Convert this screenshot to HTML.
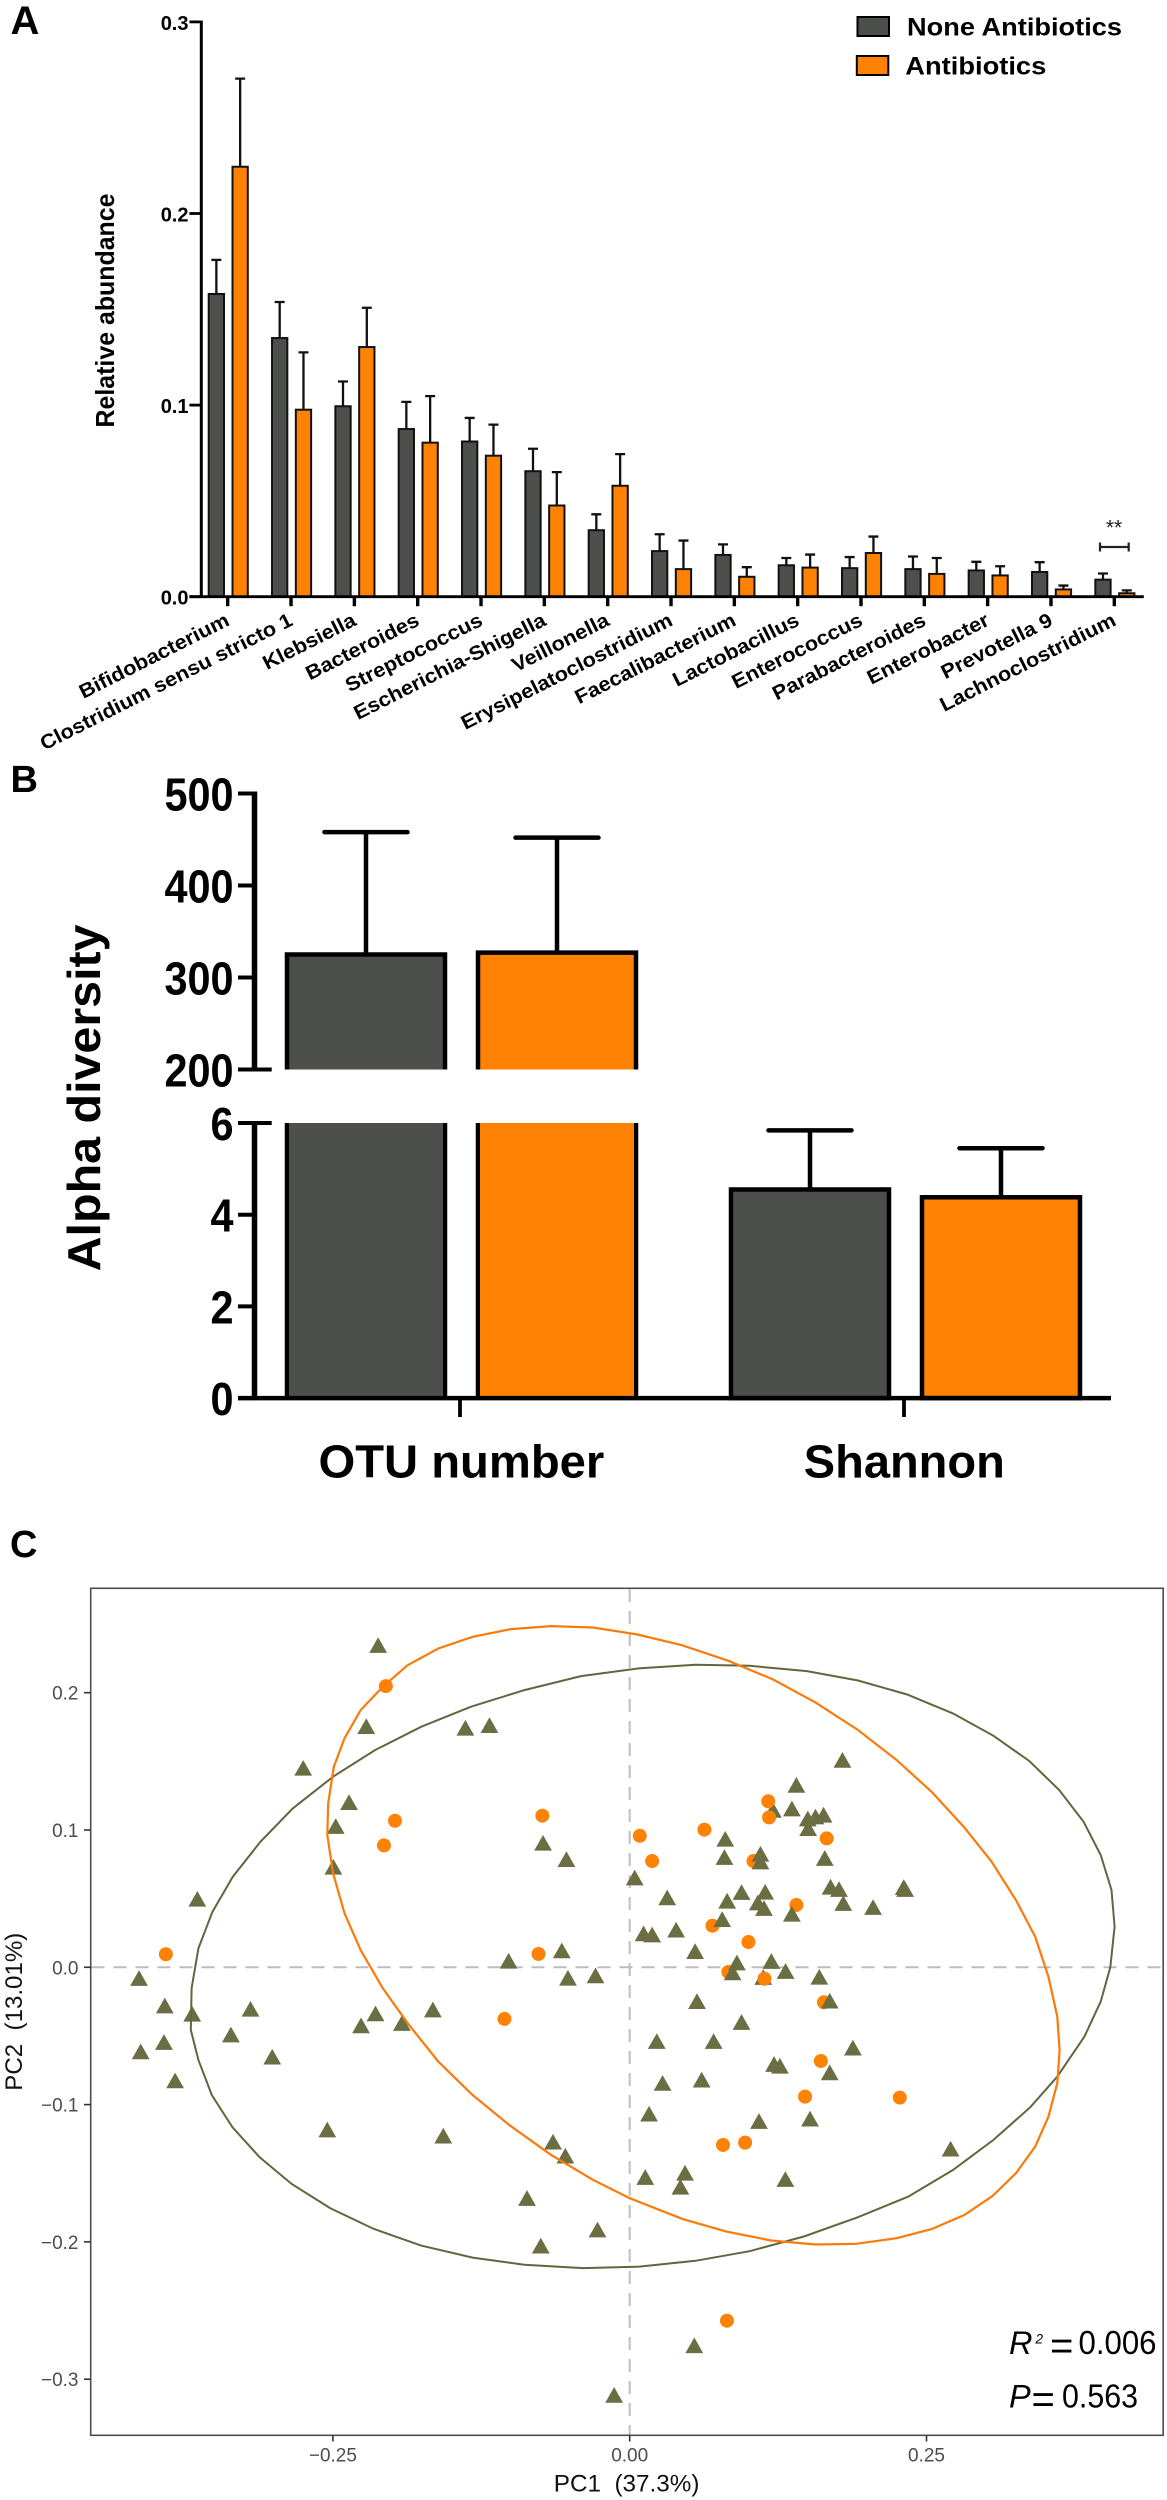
<!DOCTYPE html>
<html lang="en">
<head>
<meta charset="utf-8">
<title>Microbiome composition and diversity figure</title>
<style>
html,body{margin:0;padding:0;background:#fff;}
svg{display:block;font-family:"Liberation Sans",sans-serif;}
</style>
</head>
<body>
<svg id="figure" xmlns="http://www.w3.org/2000/svg" width="1167" height="2500" viewBox="0 0 1167 2500">
  <rect x="0" y="0" width="1167" height="2500" fill="#ffffff"/>

  <g id="panel-a">
    <text x="10.5" y="34" font-size="40" font-weight="700" fill="#000">A</text>
    <text transform="translate(114,427.5) rotate(-90)" font-size="26" font-weight="700" fill="#000" textLength="234" lengthAdjust="spacingAndGlyphs">Relative abundance</text>
    <rect x="857.5" y="17" width="31.5" height="19" fill="#4d4f4d" stroke="#000" stroke-width="2"/>
    <text x="907" y="35.4" font-size="25" font-weight="700" fill="#000" textLength="215" lengthAdjust="spacingAndGlyphs">None Antibiotics</text>
    <rect x="856.8" y="56" width="31.5" height="19" fill="#ff8205" stroke="#000" stroke-width="2"/>
    <text x="905.3" y="74.6" font-size="25" font-weight="700" fill="#000" textLength="141" lengthAdjust="spacingAndGlyphs">Antibiotics</text>
    <path d="M1100 547H1128.7M1100 542.5V551.5M1128.7 542.5V551.5" fill="none" stroke="#222" stroke-width="2.2"/>
    <text x="1114" y="534.5" text-anchor="middle" font-size="21" fill="#222">**</text>
  </g>

  <g id="panel-b">
    <text x="10.5" y="792" font-size="38" font-weight="700" fill="#000">B</text>
    <text transform="translate(100,1271.4) rotate(-90)" font-size="46" font-weight="700" fill="#000" textLength="347" lengthAdjust="spacingAndGlyphs">Alpha diversity</text>
  </g>

  <g id="panel-c">
    <text x="10" y="1557" font-size="38" font-weight="700" fill="#000">C</text>
    <rect x="90.7" y="1588.3" width="1072.5" height="847" fill="none" stroke="#4d4d4d" stroke-width="1.6"/>
    <text x="553.8" y="2491.7" font-size="24" fill="#111" textLength="145.6" lengthAdjust="spacingAndGlyphs" xml:space="preserve">PC1  (37.3%)</text>
    <text transform="translate(22,2090.7) rotate(-90)" font-size="24" fill="#111" textLength="158" lengthAdjust="spacingAndGlyphs" xml:space="preserve">PC2  (13.01%)</text>
    <g fill="#000">
      <text x="1009" y="2354" font-size="32.5" font-style="italic">R</text>
      <text x="1035.5" y="2343.5" font-size="13.5" font-style="italic">2</text>
      <text x="1050" y="2359" font-size="40" font-weight="400">=</text>
      <text x="1078.5" y="2354" font-size="33" textLength="78" lengthAdjust="spacingAndGlyphs">0.006</text>
    </g>
    <g fill="#000">
      <text x="1009" y="2407.5" font-size="32.5" font-style="italic">P</text>
      <text x="1031.5" y="2412.4" font-size="40" font-weight="400">=</text>
      <text x="1062" y="2407.5" font-size="33" textLength="76" lengthAdjust="spacingAndGlyphs">0.563</text>
    </g>
  </g>
</svg>
<script>
/* ---------- Panel A data ---------- */
const genera = ['Bifidobacterium','Clostridium sensu stricto 1','Klebsiella','Bacteroides','Streptococcus','Escherichia-Shigella','Veillonella','Erysipelatoclostridium','Faecalibacterium','Lactobacillus','Enterococcus','Parabacteroides','Enterobacter','Prevotella 9','Lachnoclostridium'];
const noneAntibioticsMean = [0.158,0.135,0.0994,0.0875,0.081,0.0655,0.0347,0.0238,0.0218,0.0164,0.0149,0.0144,0.0137,0.0129,0.0089];
const noneAntibioticsUpper = [0.1758,0.1538,0.1123,0.1017,0.0933,0.0772,0.043,0.0326,0.0273,0.0202,0.0207,0.021,0.0182,0.018,0.0121];
const antibioticsMean = [0.2244,0.0976,0.1303,0.0804,0.0736,0.0476,0.0579,0.0144,0.0104,0.0152,0.0228,0.0119,0.0111,0.0038,0.0018];
const antibioticsUpper = [0.2704,0.1275,0.1508,0.1047,0.0898,0.065,0.0744,0.0293,0.0154,0.022,0.0314,0.0202,0.0159,0.0058,0.0033];
const abundanceTicks = [0,0.1,0.2,0.3];
const abundanceTickLabels = ['0.0','0.1','0.2','0.3'];

/* ---------- Panel B data ---------- */
const diversityMetrics = ['OTU number','Shannon'];
const diversityNoneMean = [325,4.55];
const diversityNoneUpper = [458,5.84];
const diversityAbxMean = [327,4.38];
const diversityAbxUpper = [452,5.45];
const upperSegmentTicks = [200,300,400,500];
const upperSegmentTickLabels = ['200','300','400','500'];
const lowerSegmentTicks = [0,2,4,6];
const lowerSegmentTickLabels = ['0','2','4','6'];

/* ---------- Panel C data ---------- */
const pc1Ticks = [-0.25,0,0.25];
const pc1TickLabels = ['\u22120.25','0.00','0.25'];
const pc2Ticks = [0.2,0.1,0,-0.1,-0.2,-0.3];
const pc2TickLabels = ['0.2','0.1','0.0','\u22120.1','\u22120.2','\u22120.3'];
const trianglePC1 = [-0.2119,-0.2219,-0.1384,-0.1181,-0.275,-0.2364,-0.2476,-0.2496,-0.3642,-0.073,-0.0533,-0.0572,-0.102,-0.4133,-0.052,-0.0288,-0.3916,-0.3685,-0.3194,-0.2141,-0.1658,-0.2263,-0.1919,-0.3359,-0.3923,-0.4119,-0.3011,-0.3829,-0.2547,-0.157,-0.0646,-0.0542,-0.0865,-0.0749,-0.0271,0.1792,0.1404,0.1366,0.1206,0.15,0.1565,0.1633,0.1503,0.0805,0.0798,0.1101,0.1101,0.1643,0.0042,0.0316,0.0942,0.0821,0.1141,0.1079,0.1131,0.1366,0.1692,0.1763,0.1799,0.205,0.2308,0.232,0.0779,0.0117,0.0189,0.0391,0.0551,0.0903,0.0867,0.1193,0.1313,0.1125,0.1597,0.0567,0.1685,0.0942,0.0228,0.0707,0.188,0.1216,0.1265,0.1685,0.0277,0.0606,0.0163,0.1089,0.1519,0.2703,0.0131,0.0466,0.0427,0.1311,0.0544,-0.0131];
const trianglePC2 = [0.2345,0.1755,0.1743,0.1762,0.1451,0.1201,0.1027,0.073,0.0497,0.0905,0.0786,0.0121,0.0046,-0.008,-0.0078,-0.0061,-0.028,-0.034,-0.0304,-0.0338,-0.0309,-0.0425,-0.0408,-0.0491,-0.0546,-0.0614,-0.0653,-0.0826,-0.1183,-0.1228,-0.1272,-0.1374,-0.1682,-0.2029,-0.1912,0.1509,0.1327,0.1155,0.1145,0.1082,0.1096,0.1109,0.1012,0.0934,0.0801,0.0825,0.0769,0.0794,0.0652,0.0507,0.0546,0.0483,0.0548,0.047,0.043,0.0388,0.0585,0.0568,0.0466,0.0437,0.0582,0.0568,0.0349,0.0245,0.0237,0.0272,0.0116,0.0033,-0.0039,0.0044,-0.0029,-0.0073,-0.0071,-0.0248,-0.0245,-0.04,-0.0539,-0.0539,-0.0587,-0.0706,-0.0719,-0.0767,-0.0844,-0.082,-0.1068,-0.1121,-0.1104,-0.1323,-0.1529,-0.1498,-0.16,-0.1544,-0.2755,-0.3116];
const circleBelowPC1 = [-0.2054,-0.1977,-0.207,-0.3907,-0.0736,-0.0768,-0.1055,0.0085,0.0629,0.1659,0.0189,0.1043,0.1404,0.0697,0.1,0.0831,0.1636,0.161,0.1477,0.2275,0.0786,0.0972,0.0819];
const circleBelowPC2 = [0.2048,0.1067,0.0888,0.0095,0.1104,0.0097,-0.0376,0.0958,0.1002,0.0939,0.0774,0.0774,0.0454,0.0303,0.0184,-0.0034,-0.0255,-0.0682,-0.0942,-0.0949,-0.1294,-0.1277,-0.2574];
const circleAbovePC1 = [0.1167,0.1174,0.1135];
const circleAbovePC2 = [0.1209,0.1092,-0.0083];
const oliveEllipsePC1 = [0.0075,0.0554,0.101,0.1493,0.1923,0.2337,0.2722,0.3064,0.3367,0.3618,0.3823,0.3967,0.4058,0.4084,0.4048,0.3967,0.383,0.3602,0.3374,0.3064,0.2722,0.2347,0.1923,0.1467,0.101,0.0554,0.0082,-0.0393,-0.0887,-0.1323,-0.1757,-0.2161,-0.2524,-0.2847,-0.3117,-0.3346,-0.352,-0.3633,-0.3697,-0.369,-0.3633,-0.3514,-0.3343,-0.3111,-0.2837,-0.2498,-0.2145,-0.1757,-0.1339,-0.0887,-0.041];
const oliveEllipsePC2 = [0.2177,0.2203,0.2196,0.2157,0.2089,0.1987,0.1849,0.1686,0.1502,0.1291,0.106,0.0818,0.0563,0.0296,0,-0.025,-0.0505,-0.0796,-0.1019,-0.1257,-0.1476,-0.167,-0.182,-0.1961,-0.2068,-0.2138,-0.218,-0.2191,-0.2167,-0.2114,-0.2027,-0.1903,-0.1754,-0.1578,-0.1383,-0.1165,-0.093,-0.0675,-0.0456,-0.0153,0.0138,0.0405,0.066,0.0914,0.1158,0.1388,0.1582,0.1752,0.1897,0.2019,0.2121];
const orangeEllipsePC1 = [-0.0662,-0.031,0.0065,0.044,0.0831,0.1206,0.1564,0.1923,0.2249,0.2543,0.2813,0.3048,0.3253,0.3416,0.3527,0.3602,0.3621,0.3602,0.3527,0.3416,0.3253,0.3057,0.282,0.2543,0.2249,0.1907,0.1564,0.119,0.0815,0.045,0,-0.031,-0.0662,-0.1016,-0.1323,-0.1612,-0.187,-0.208,-0.2267,-0.2402,-0.2498,-0.2547,-0.254,-0.2492,-0.2402,-0.2267,-0.208,-0.187,-0.1612,-0.1323,-0.1];
const orangeEllipsePC2 = [0.2485,0.2475,0.2424,0.2346,0.2232,0.2097,0.1929,0.1728,0.1509,0.1278,0.1024,0.0769,0.049,0.0223,-0.0068,-0.036,-0.0602,-0.0844,-0.1088,-0.1306,-0.15,-0.1665,-0.1803,-0.1907,-0.1973,-0.2014,-0.2019,-0.199,-0.1925,-0.1835,-0.1682,-0.1548,-0.1366,-0.1148,-0.093,-0.0687,-0.0408,-0.0153,0.0126,0.0393,0.0684,0.0963,0.1194,0.146,0.1667,0.1873,0.2043,0.2201,0.2322,0.2407,0.2463];

/* ---------- Shared ---------- */
const SVGNS = 'http://www.w3.org/2000/svg';
const GRAY = '#4d4f4d', ORANGE = '#ff8205', OLIVE = '#6b6d43', OLIVE_LINE = '#63653f', ORANGE_LINE = '#fb7a0a';
function add(parent, tag, attrs, text) {
  const node = document.createElementNS(SVGNS, tag);
  for (const k in attrs) node.setAttribute(k, attrs[k]);
  if (text !== undefined) node.textContent = text;
  parent.appendChild(node);
  return node;
}
let el;

/* ---------- Panel A ---------- */
const panelA = document.getElementById('panel-a');
function xA(i) { return 227.7 + 63.33 * i; }
function yA(v) { return 596.7 - v * 1916; }
const BAR_W = 15.3;
function drawAbundanceBar(i, offset, mean, upper, fill, series) {
  const cx = xA(i) + offset;
  el = add(panelA, 'path', {d: 'M' + cx + ' ' + yA(mean) + 'V' + yA(upper) + 'M' + (cx - 5) + ' ' + yA(upper) + 'H' + (cx + 5), fill: 'none', stroke: '#111', 'stroke-width': 2.3});
  
  
  el = add(panelA, 'rect', {x: cx - BAR_W / 2, y: yA(mean), width: BAR_W, height: Math.max(0, yA(0) - yA(mean)), fill: fill, stroke: '#111', 'stroke-width': 2});
  
  
}
genera.forEach(function (g, i) {
  drawAbundanceBar(i, -11.35, noneAntibioticsMean[i], noneAntibioticsUpper[i], GRAY, 'none-antibiotics');
  drawAbundanceBar(i, 12.45, antibioticsMean[i], antibioticsUpper[i], ORANGE, 'antibiotics');
  el = add(panelA, 'line', {x1: xA(i), x2: xA(i), y1: yA(0), y2: yA(0) + 9.5, stroke: '#000', 'stroke-width': 3.4});
  
  
  el = add(panelA, 'text', {transform: 'translate(' + (xA(i) + 3) + ',624.5) rotate(-26.8) scale(1.085,1)', 'text-anchor': 'end', 'font-size': 20, 'font-weight': 700, fill: '#000'}, g);
  
  
});
el = add(panelA, 'line', {x1: 201.3, x2: 201.3, y1: yA(0.3) - 1.3, y2: yA(0) + 1.3, stroke: '#000', 'stroke-width': 3});


el = add(panelA, 'line', {x1: 189.4, x2: 1143.8, y1: yA(0), y2: yA(0), stroke: '#000', 'stroke-width': 2.8});


abundanceTicks.forEach(function (t, i) {
  el = add(panelA, 'line', {x1: 189.4, x2: 201.3, y1: yA(t), y2: yA(t), stroke: '#000', 'stroke-width': 2.8});
  
  
  el = add(panelA, 'text', {x: 188.5, y: yA(t) + 8, 'text-anchor': 'end', 'font-size': 20, 'font-weight': 700, fill: '#000'}, abundanceTickLabels[i]);
  
  
});

/* ---------- Panel B ---------- */
const panelB = document.getElementById('panel-b');
const UPPER_BASE = 1069.5, LOWER_TOP = 1123;
const B_AXIS_X = 254.5;
function yBUpper(v) { return UPPER_BASE - (v - 200) * 0.92; }
function yBLower(v) { return 1398.1 - v * 45.85; }
function diversityBar(cx, metricIndex, mean, upper, fill, series) {
  const half = 79;
  const usesUpper = metricIndex === 0;
  const yMean = usesUpper ? yBUpper(mean) : yBLower(mean);
  const yUp = usesUpper ? yBUpper(upper) : yBLower(upper);
  el = add(panelB, 'path', {d: 'M' + cx + ' ' + yMean + 'V' + yUp + 'M' + (cx - 41.5) + ' ' + yUp + 'H' + (cx + 41.5), fill: 'none', stroke: '#000', 'stroke-width': 4.5, 'stroke-linecap': 'round'});
  
  
  if (usesUpper) {
    el = add(panelB, 'path', {d: 'M' + (cx - half) + ' ' + UPPER_BASE + 'V' + yMean + 'H' + (cx + half) + 'V' + UPPER_BASE, fill: fill, stroke: '#000', 'stroke-width': 4.5});
    
    
    el = add(panelB, 'path', {d: 'M' + (cx - half) + ' ' + yBLower(0) + 'V' + LOWER_TOP + 'M' + (cx + half) + ' ' + LOWER_TOP + 'V' + yBLower(0), fill: 'none', stroke: '#000', 'stroke-width': 4.5});
    
    
    el = add(panelB, 'rect', {x: cx - half + 2, y: LOWER_TOP, width: 2 * half - 4, height: yBLower(0) - LOWER_TOP, fill: fill});
    
    
  } else {
    el = add(panelB, 'rect', {x: cx - half, y: yMean, width: 2 * half, height: yBLower(0) - yMean, fill: fill, stroke: '#000', 'stroke-width': 4.5});
    
    
  }
}
function xB(i) { return 460 + 444 * i; }
diversityMetrics.forEach(function (m, i) {
  diversityBar(xB(i) - 94, i, diversityNoneMean[i], diversityNoneUpper[i], GRAY, 'none-antibiotics');
  diversityBar(xB(i) + 97, i, diversityAbxMean[i], diversityAbxUpper[i], ORANGE, 'antibiotics');
  el = add(panelB, 'line', {x1: xB(i), x2: xB(i), y1: yBLower(0), y2: 1417, stroke: '#000', 'stroke-width': 3.8});
  
  
  el = add(panelB, 'text', {x: i === 0 ? 318.5 : 803.8, y: 1477.5, 'font-size': 46, 'font-weight': 700, fill: '#000', textLength: i === 0 ? 285.8 : 201, lengthAdjust: 'spacingAndGlyphs'}, m);
  
  
});
el = add(panelB, 'line', {x1: B_AXIS_X, x2: B_AXIS_X, y1: yBUpper(500) - 2, y2: yBUpper(200) + 2, stroke: '#000', 'stroke-width': 5.5});


el = add(panelB, 'line', {x1: B_AXIS_X, x2: B_AXIS_X, y1: yBLower(6) - 2, y2: yBLower(0), stroke: '#000', 'stroke-width': 5.5});


el = add(panelB, 'line', {x1: 238, x2: 1111, y1: yBLower(0), y2: yBLower(0), stroke: '#000', 'stroke-width': 4.5});


upperSegmentTicks.forEach(function (t, i) {
  el = add(panelB, 'line', {x1: 238, x2: i === 0 ? 271.7 : 256, y1: yBUpper(t), y2: yBUpper(t), stroke: '#000', 'stroke-width': 4});
  
  
  el = add(panelB, 'text', {transform: 'translate(233.5,' + (yBUpper(t) + 17) + ') scale(0.9,1)', 'text-anchor': 'end', 'font-size': 46, 'font-weight': 700, fill: '#000'}, upperSegmentTickLabels[i]);
  
  
});
lowerSegmentTicks.forEach(function (t, i) {
  el = add(panelB, 'line', {x1: 238, x2: t === 6 ? 271.7 : 256, y1: yBLower(t), y2: yBLower(t), stroke: '#000', 'stroke-width': 4});
  
  
  el = add(panelB, 'text', {transform: 'translate(233.5,' + (yBLower(t) + 17) + ') scale(0.9,1)', 'text-anchor': 'end', 'font-size': 46, 'font-weight': 700, fill: '#000'}, lowerSegmentTickLabels[i]);
  
  
});

/* ---------- Panel C ---------- */
const panelC = document.getElementById('panel-c');
function xC(v) { return 629.7 + v * 1187.2; }
function yC(v) { return 1967.3 - v * 1373; }
el = add(panelC, 'line', {x1: 91.5, x2: 1162.5, y1: yC(0), y2: yC(0), stroke: '#bdbdbd', 'stroke-width': 2, 'stroke-dasharray': '13 9'});


el = add(panelC, 'line', {x1: xC(0), x2: xC(0), y1: 1589, y2: 2434.5, stroke: '#bdbdbd', 'stroke-width': 2, 'stroke-dasharray': '13 9'});


function ellipsePoints(xs, ys) {
  return xs.map(function (x, i) { return xC(x).toFixed(1) + ',' + yC(ys[i]).toFixed(1); }).join(' ');
}
function drawCircle(v1, v2, k, label) {
  el = add(panelC, 'circle', {cx: xC(v1), cy: yC(v2), r: 7, fill: ORANGE});
  
  
}
circleBelowPC1.forEach(function (v, k) { drawCircle(v, circleBelowPC2[k], k, 'antibiotics-point'); });
trianglePC1.forEach(function (v, k) {
  const cx = xC(v), cy = yC(trianglePC2[k]);
  el = add(panelC, 'polygon', {points: cx + ',' + (cy - 8.1) + ' ' + (cx + 8.9) + ',' + (cy + 7.6) + ' ' + (cx - 8.9) + ',' + (cy + 7.6), fill: OLIVE});
  
  
});
circleAbovePC1.forEach(function (v, k) { drawCircle(v, circleAbovePC2[k], k, 'antibiotics-point-top'); });
el = add(panelC, 'polygon', {points: ellipsePoints(oliveEllipsePC1, oliveEllipsePC2), fill: 'none', stroke: OLIVE_LINE, 'stroke-width': 2});


el = add(panelC, 'polygon', {points: ellipsePoints(orangeEllipsePC1, orangeEllipsePC2), fill: 'none', stroke: ORANGE_LINE, 'stroke-width': 2.2});


pc2Ticks.forEach(function (t, i) {
  el = add(panelC, 'line', {x1: 84, x2: 90.7, y1: yC(t), y2: yC(t), stroke: '#333', 'stroke-width': 1.6});
  
  
  el = add(panelC, 'text', {x: 78.5, y: yC(t) + 7, 'text-anchor': 'end', 'font-size': 19, fill: '#4d4d4d'}, pc2TickLabels[i]);
  
  
});
pc1Ticks.forEach(function (t, i) {
  el = add(panelC, 'line', {x1: xC(t), x2: xC(t), y1: 2435.3, y2: 2441.5, stroke: '#333', 'stroke-width': 1.6});
  
  
  el = add(panelC, 'text', {x: xC(t), y: 2461.7, 'text-anchor': 'middle', 'font-size': 19, fill: '#4d4d4d'}, pc1TickLabels[i]);
  
  
});
</script>
</body>
</html>
